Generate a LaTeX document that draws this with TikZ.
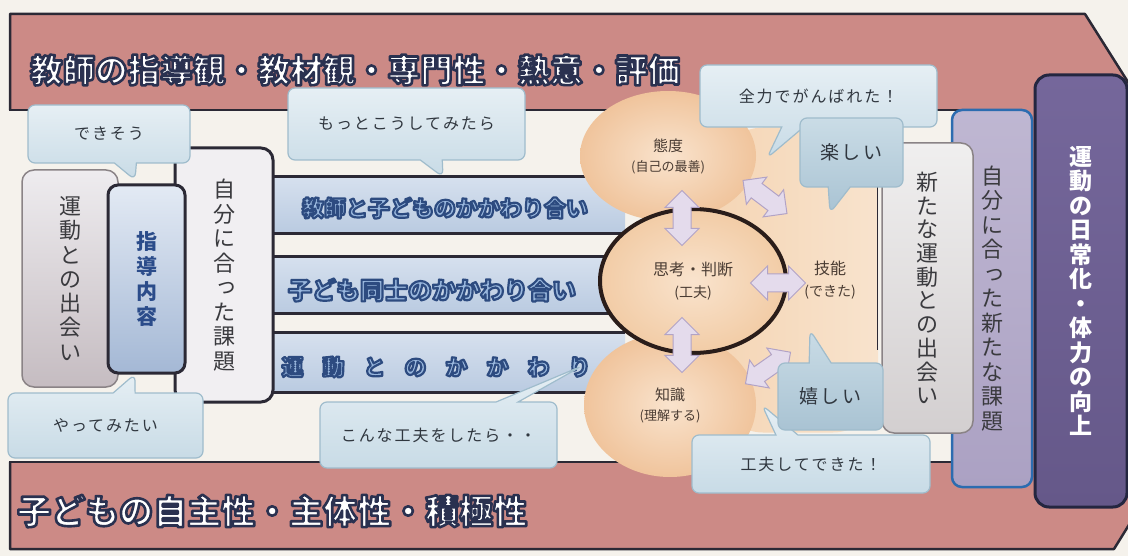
\documentclass[tikz,border=0pt]{standalone}
\usepackage{fontspec}
\setmainfont{Noto Sans CJK JP}
\usetikzlibrary{shapes.geometric,shapes.arrows,shapes.callouts}

\definecolor{bgcream}{HTML}{F5F2EC}
\definecolor{bandpink}{HTML}{CC8A86}
\definecolor{edge}{HTML}{2B2935}
\definecolor{lanetop}{HTML}{D6E0EE}
\definecolor{lanebot}{HTML}{BACBE1}
\definecolor{laneblue}{HTML}{9AB8DE}
\definecolor{cardtop}{HTML}{EEECEF}
\definecolor{cardbot}{HTML}{C5BCC1}
\definecolor{cardedge}{HTML}{8A8386}
\definecolor{taskfill}{HTML}{F1EFF2}
\definecolor{guidetop}{HTML}{E3EAF4}
\definecolor{guidebot}{HTML}{A4B8D5}
\definecolor{guideink}{HTML}{2B4C8A}
\definecolor{ink}{HTML}{4A3C33}
\definecolor{ink2}{HTML}{3A3A3E}
\definecolor{orangeA}{HTML}{F9E3CD}
\definecolor{orangeB}{HTML}{F0C49C}
\definecolor{thinkouter}{HTML}{F2CCA6}
\definecolor{thinkedge}{HTML}{2A1D1A}
\definecolor{zoneleft}{HTML}{F5D6B6}
\definecolor{zoneright}{HTML}{F8E3CD}
\definecolor{arrowfill}{HTML}{E4DBEC}
\definecolor{arrowedge}{HTML}{B2A3C6}
\definecolor{bubtop}{HTML}{E6EFF4}
\definecolor{bubfill}{HTML}{C8DBE6}
\definecolor{bubedge}{HTML}{9FBCCC}
\definecolor{bubdarktop}{HTML}{CADCE6}
\definecolor{bubdark}{HTML}{A9C3D3}
\definecolor{bubink}{HTML}{30373F}
\definecolor{meettop}{HTML}{F0EFEF}
\definecolor{meetbot}{HTML}{D3CFD0}
\definecolor{lilactop}{HTML}{BFB7D2}
\definecolor{lilacbot}{HTML}{ABA1C3}
\definecolor{lilacedge}{HTML}{2C6CB0}
\definecolor{plumtop}{HTML}{75679B}
\definecolor{plumbot}{HTML}{655889}
\definecolor{plumedge}{HTML}{242640}

% outlined letters: fill in the current colour, stroke in #1 (rgb), width #2
\newcommand\outlined[3]{\special{pdf:literal direct #1 RG #2 w 1 j 2 Tr}#3\special{pdf:literal direct 0 Tr}}
\newcommand\titlerim[1]{\textcolor{white}{\outlined{0.165 0.192 0.314}{2.6}{#1}}}
\newcommand\lanerim[1]{\textcolor{laneblue}{\outlined{0.176 0.294 0.502}{2.2}{#1}}}
\newcommand\vsm[1]{\makebox[1em]{\hspace*{0.2em}\raisebox{0.08em}{#1}}}

\begin{document}
\begin{tikzpicture}[x=1pt,y=-1pt,
  frame/.style={draw=edge,line width=2.5pt,line join=round},
  lane/.style={rectangle,inner sep=0pt,minimum width=365pt,minimum height=56pt,top color=lanetop,bottom color=lanebot},
  lanetext/.style={inner sep=0pt,font=\fontsize{22}{22}\selectfont\bfseries},
  card/.style={rectangle,rounded corners=12pt,inner sep=0pt,align=center},
  blob/.style={ellipse,inner sep=0pt,inner color=orangeA,outer color=orangeB,align=center,text=ink,font=\fontsize{15}{20}\selectfont},
  swap/.style={double arrow,double arrow head extend=8pt,inner xsep=0pt,inner ysep=8.5pt,minimum height=55pt,fill=arrowfill,draw=arrowedge,line width=1pt},
  bubble/.style={rectangle callout,rounded corners=7pt,inner sep=0pt,callout pointer width=22pt,draw=bubedge,line width=1.2pt,top color=bubtop,bottom color=bubfill,text=bubink,font=\fontsize{16}{18}\selectfont\addfontfeature{LetterSpace=12}},
  darkbubble/.style={bubble,top color=bubdarktop,bottom color=bubdark,font=\fontsize{19}{20}\selectfont\addfontfeature{LetterSpace=12}}
]
\useasboundingbox (0,0) rectangle (1128,556);
\fill[bgcream] (0,0) rectangle (1128,556);

% big arrow with the two bands
\begin{scope}
  \clip (0,0) rectangle (1128,556);
  \draw[frame,fill=bandpink] (10,14) -- (1085,14) -- (1267,302) -- (1114,549) -- (10,549) -- cycle;
\end{scope}
\fill[bgcream] (4,110) rectangle (1000,462);
\draw[frame] (8.75,110) -- (1000,110) (8.75,462) -- (1000,462);

\node[anchor=west,inner sep=0pt,font=\fontsize{32.5}{33}\selectfont\bfseries] (teacher) at (30,70) {\titlerim{教師の指導観・教材観・専門性・熱意・評価}};
\node[anchor=west,inner sep=0pt,font=\fontsize{34}{34}\selectfont\bfseries] (child) at (17,511) {\titlerim{子どもの自主性・主体性・積極性}};

% lanes
\node[lane] (lane1) at (442.5,205) {};
\node[lane] (lane2) at (442.5,285) {};
\node[lane,minimum height=59pt] (lane3) at (442.5,362.5) {};
\foreach \n in {lane1,lane2,lane3}
  \draw[edge,line width=3pt] (\n.north west) -- (\n.north east) (\n.south west) -- (\n.south east);
\node[lanetext] (lane1-t) at (445,208) {\lanerim{教師と子どものかかわり合い}};
\node[lanetext,font=\fontsize{24}{24}\selectfont\bfseries] (lane2-t) at (432,290) {\lanerim{子ども同士のかかわり合い}};
\node[lanetext] (lane3-t) at (436,367) {\lanerim{運\kern19pt 動\kern19pt と\kern19pt の\kern19pt か\kern19pt か\kern19pt わ\kern19pt り}};

% left cards
\node[card,minimum width=96pt,minimum height=217pt,top color=cardtop,bottom color=cardbot,draw=cardedge,line width=1.5pt,text=ink2,font=\fontsize{22}{24.3}\selectfont] (meet) at (70,278.5) {運\\動\\と\\の\\出\\会\\い};
\node[card,minimum width=98pt,minimum height=254pt,fill=taskfill,draw=edge,line width=3pt,text=ink2,font=\fontsize{22}{24.5}\selectfont] (task) at (224,275) {自\\分\\に\\合\\\vsm{っ}\\た\\課\\題};
\node[card,rounded corners=10pt,minimum width=77pt,minimum height=188pt,top color=guidetop,bottom color=guidebot,draw=edge,line width=3pt,text=guideink,font=\fontsize{21}{25}\selectfont\bfseries] (guide) at (146.5,279) {指\\導\\内\\容};

% centre
\node[rectangle,rounded corners=45pt,minimum width=160pt,minimum height=305pt,inner sep=0pt,left color=zoneleft,right color=zoneright] (skill) at (798,280) {};
\draw[edge,line width=1pt] ([xshift=-1pt,yshift=97pt]skill.east) -- ([xshift=-1pt,yshift=-70pt]skill.east);
\node[blob,minimum width=176pt,minimum height=130pt] (attitude) at (668,156) {態度\\{\fontsize{13}{16}\selectfont(自己の最善)}};
\node[blob,minimum width=172pt,minimum height=144pt] (knowledge) at (670,405) {知識\\{\fontsize{13}{16}\selectfont(理解する)}};
\node[ellipse,minimum width=186pt,minimum height=144pt,inner sep=0pt,inner color=orangeA,outer color=thinkouter,draw=thinkedge,line width=4pt,align=center,text=ink,font=\fontsize{16}{22}\selectfont] (think) at (693,281) {思考・判断\\{\fontsize{14}{16}\selectfont(工夫)}};
\node[align=center,text=ink,font=\fontsize{16}{22}\selectfont] (skill-t) at (830,280) {技能\\{\fontsize{14}{16}\selectfont(できた)}};

\node[swap,rotate=90] (a-up) at (682,218) {};
\node[swap,rotate=90] (a-down) at (682,345) {};
\node[swap] (a-side) at (778,283) {};
\node[swap,rotate=-37] (a-tl) at (765,197) {};
\node[swap,rotate=35] (a-bl) at (768,368) {};

% right cards
\node[card,rounded corners=10pt,minimum width=80pt,minimum height=377pt,top color=lilactop,bottom color=lilacbot,draw=lilacedge,line width=2.5pt,text=ink2,font=\fontsize{22}{24.5}\selectfont] (newtask) at (992,298.5) {自\\分\\に\\合\\\vsm{っ}\\た\\新\\た\\な\\課\\題};
\node[card,minimum width=91pt,minimum height=290pt,top color=meettop,bottom color=meetbot,draw=cardedge,line width=1.5pt,text=ink2,font=\fontsize{22}{23.7}\selectfont] (newmeet) at (927.5,288) {新\\た\\な\\運\\動\\と\\の\\出\\会\\い};
\node[card,rounded corners=14pt,minimum width=92pt,minimum height=432pt,top color=plumtop,bottom color=plumbot,draw=plumedge,line width=3pt,text=white,font=\fontsize{23}{24.5}\selectfont\bfseries] (daily) at (1081,291) {運\\動\\の\\日\\常\\化\\・\\体\\力\\の\\向\\上};

% speech bubbles
\node[bubble,minimum width=162pt,minimum height=58pt,callout absolute pointer={(135,180)}] (cando) at (109,134) {できそう};
\node[bubble,minimum width=195pt,minimum height=65pt,callout absolute pointer={(135,374)}] (wanttry) at (105.5,425.5) {やってみたい};
\node[bubble,minimum width=237pt,minimum height=72pt,callout absolute pointer={(443,177)}] (trymore) at (406.5,124) {もっとこうしてみたら};
\node[bubble,minimum width=237pt,minimum height=66pt,callout absolute pointer={(582,366)}] (idea) at (438.5,435) {こんな工夫をしたら・・};
\node[bubble,minimum width=237pt,minimum height=62pt,callout absolute pointer={(767,158)}] (bestdone) at (818.5,96) {全力でがんばれた！};
\node[darkbubble,minimum width=103pt,minimum height=69pt,callout absolute pointer={(830,213)}] (fun) at (851.5,152.5) {楽しい};
\node[bubble,minimum width=238pt,minimum height=58pt,callout absolute pointer={(762,405)}] (solved) at (811,464) {工夫してできた！};
\node[darkbubble,minimum width=105pt,minimum height=67pt,callout absolute pointer={(810,330)}] (glad) at (830.5,396.5) {嬉しい};
\end{tikzpicture}
\end{document}
